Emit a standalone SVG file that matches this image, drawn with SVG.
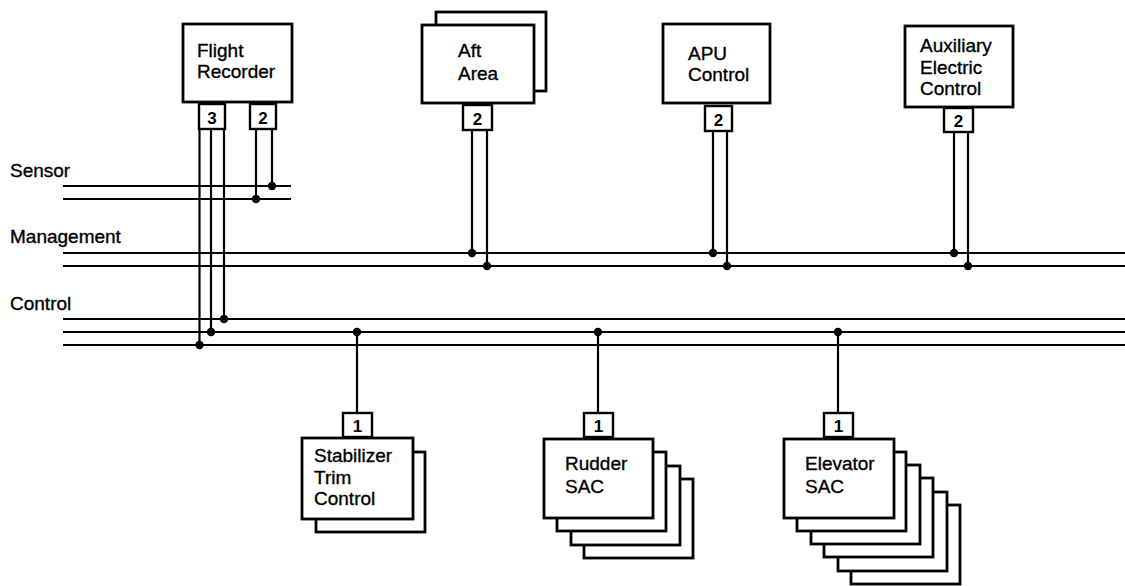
<svg xmlns="http://www.w3.org/2000/svg" width="1125" height="586" viewBox="0 0 1125 586">
<style>
.bx{fill:#fff;stroke:#000;stroke-width:2.8}
.pt{fill:#fff;stroke:#000;stroke-width:2.4}
.ln{fill:none;stroke:#000;stroke-width:2.2}
.t{font-family:"Liberation Sans",Arial,sans-serif;font-size:19px;fill:#000;stroke:#000;stroke-width:0.35}
.pn{font-family:"Liberation Sans",Arial,sans-serif;font-size:17px;font-weight:bold;fill:#000;text-anchor:middle}
.dot{fill:#000}
</style>
<rect width="1125" height="586" fill="#fff"/>
<g id="bus-labels">
<text class="t" x="10" y="177">Sensor</text>
<text class="t" x="10" y="243">Management</text>
<text class="t" x="10" y="310">Control</text>
</g>
<g id="connectors">
<line class="ln" x1="63" y1="186" x2="291" y2="186"/>
<line class="ln" x1="63" y1="199" x2="291" y2="199"/>
<line class="ln" x1="63" y1="253" x2="1125" y2="253"/>
<line class="ln" x1="63" y1="266" x2="1125" y2="266"/>
<line class="ln" x1="63" y1="319" x2="1125" y2="319"/>
<line class="ln" x1="63" y1="332" x2="1125" y2="332"/>
<line class="ln" x1="63" y1="345" x2="1125" y2="345"/>
<line class="ln" x1="199.5" y1="128" x2="199.5" y2="345"/>
<line class="ln" x1="211" y1="128" x2="211" y2="332"/>
<line class="ln" x1="224" y1="128" x2="224" y2="319"/>
<line class="ln" x1="256" y1="128" x2="256" y2="199"/>
<line class="ln" x1="272" y1="128" x2="272" y2="186"/>
<line class="ln" x1="472" y1="130" x2="472" y2="253"/>
<line class="ln" x1="487" y1="130" x2="487" y2="266"/>
<line class="ln" x1="713" y1="131" x2="713" y2="253"/>
<line class="ln" x1="727" y1="131" x2="727" y2="266"/>
<line class="ln" x1="954" y1="132" x2="954" y2="253"/>
<line class="ln" x1="968" y1="132" x2="968" y2="266"/>
<line class="ln" x1="357" y1="332" x2="357" y2="414"/>
<line class="ln" x1="598" y1="332" x2="598" y2="414"/>
<line class="ln" x1="838" y1="332" x2="838" y2="414"/>
<circle class="dot" cx="272" cy="186" r="4.2"/>
<circle class="dot" cx="256" cy="199" r="4.2"/>
<circle class="dot" cx="224" cy="319" r="4.2"/>
<circle class="dot" cx="211" cy="332" r="4.2"/>
<circle class="dot" cx="199.5" cy="345" r="4.2"/>
<circle class="dot" cx="472" cy="253" r="4.2"/>
<circle class="dot" cx="487" cy="266" r="4.2"/>
<circle class="dot" cx="713" cy="253" r="4.2"/>
<circle class="dot" cx="727" cy="266" r="4.2"/>
<circle class="dot" cx="954" cy="253" r="4.2"/>
<circle class="dot" cx="968" cy="266" r="4.2"/>
<circle class="dot" cx="357" cy="332" r="4.2"/>
<circle class="dot" cx="598" cy="332" r="4.2"/>
<circle class="dot" cx="838" cy="332" r="4.2"/>
</g>
<g id="flight-recorder">
<rect class="bx" x="183" y="24" width="109" height="78"/>
<rect class="pt" x="199" y="104" width="26" height="25"/>
<rect class="pt" x="250" y="104" width="26" height="25"/>
<text class="pn" x="212" y="124">3</text>
<text class="pn" x="263" y="124">2</text>
<text class="t" x="197" y="57">Flight</text>
<text class="t" x="197" y="78">Recorder</text>
</g>
<g id="aft-area">
<rect class="bx" x="436" y="12" width="110" height="79"/>
<rect class="bx" x="422" y="25" width="112" height="78"/>
<rect class="pt" x="463" y="105" width="29" height="25"/>
<text class="pn" x="477.5" y="125">2</text>
<text class="t" x="458" y="57">Aft</text>
<text class="t" x="458" y="80">Area</text>
</g>
<g id="apu-control">
<rect class="bx" x="663" y="24" width="107" height="79"/>
<rect class="pt" x="705" y="106" width="27" height="25"/>
<text class="pn" x="718.5" y="126">2</text>
<text class="t" x="688" y="60">APU</text>
<text class="t" x="688" y="81">Control</text>
</g>
<g id="auxiliary-electric-control">
<rect class="bx" x="905" y="26" width="108" height="81"/>
<rect class="pt" x="944" y="108" width="29" height="24"/>
<text class="pn" x="958.5" y="127">2</text>
<text class="t" x="920" y="52">Auxiliary</text>
<text class="t" x="920" y="74">Electric</text>
<text class="t" x="920" y="95">Control</text>
</g>
<g id="stabilizer-trim-control">
<rect class="bx" x="316" y="452" width="109" height="80"/>
<rect class="bx" x="302" y="438" width="111" height="81"/>
<rect class="pt" x="343" y="413" width="29" height="24"/>
<text class="pn" x="357.5" y="432">1</text>
<text class="t" x="314" y="462">Stabilizer</text>
<text class="t" x="314" y="484">Trim</text>
<text class="t" x="314" y="505">Control</text>
</g>
<g id="rudder-sac">
<rect class="bx" x="584" y="479" width="109" height="79"/>
<rect class="bx" x="571" y="466" width="109" height="79"/>
<rect class="bx" x="557" y="452" width="109" height="79"/>
<rect class="bx" x="544" y="439" width="109" height="79"/>
<rect class="pt" x="584" y="413" width="29" height="24"/>
<text class="pn" x="598.5" y="432">1</text>
<text class="t" x="565" y="470">Rudder</text>
<text class="t" x="565" y="493">SAC</text>
</g>
<g id="elevator-sac">
<rect class="bx" x="851" y="505" width="109" height="79"/>
<rect class="bx" x="838" y="492" width="109" height="79"/>
<rect class="bx" x="824" y="478" width="109" height="79"/>
<rect class="bx" x="811" y="465" width="109" height="79"/>
<rect class="bx" x="797" y="452" width="109" height="79"/>
<rect class="bx" x="784" y="439" width="110" height="79"/>
<rect class="pt" x="824" y="413" width="29" height="24"/>
<text class="pn" x="838.5" y="432">1</text>
<text class="t" x="805" y="470">Elevator</text>
<text class="t" x="805" y="493">SAC</text>
</g>
</svg>
